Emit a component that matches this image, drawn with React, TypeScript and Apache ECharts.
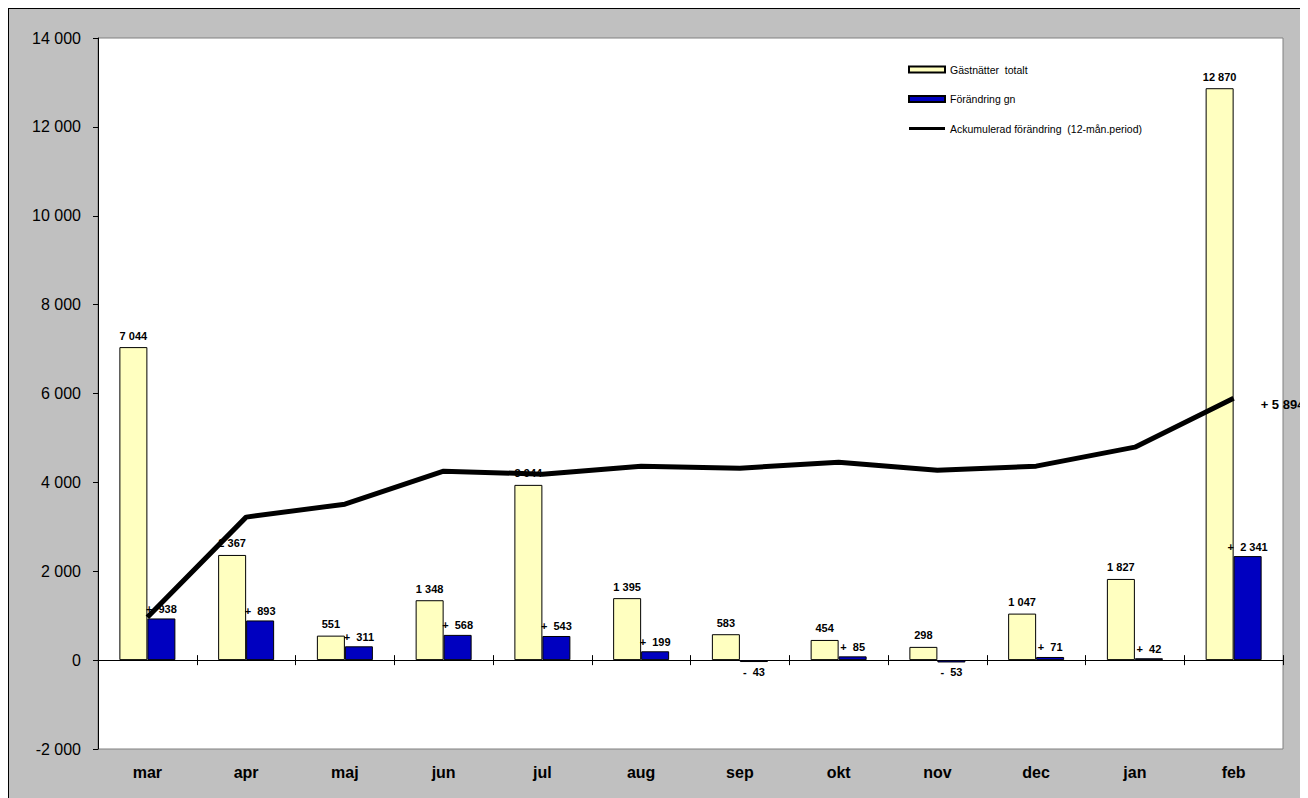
import React, { useEffect, useRef } from "react";
import * as echarts from "echarts";

const months = ["mar", "apr", "maj", "jun", "jul", "aug", "sep", "okt", "nov", "dec", "jan", "feb"];
const totalNights = [7044, 2367, 551, 1348, 3944, 1395, 583, 454, 298, 1047, 1827, 12870];
const changeNights = [938, 893, 311, 568, 543, 199, -43, 85, -53, 71, 42, 2341];
const cumulativeChange = [967, 3218, 3510, 4253, 4185, 4365, 4320, 4455, 4275, 4365, 4793, 5894];
const yTicks = { min: -2000, max: 14000, interval: 2000 };

const seriesNames = ["Gästnätter  totalt", "Förändring gn", "Ackumulerad förändring  (12-mån.period)"];

const FONT = "'Liberation Sans', Arial, Helvetica, sans-serif";

function fmt(n: number): string {
  return Math.abs(n).toString().replace(/\B(?=(\d{3})+(?!\d))/g, " ");
}
function signed(n: number): string {
  return (n < 0 ? "-  " : "+  ") + fmt(n);
}

export default function App() {
  const ref = useRef<HTMLDivElement>(null);
  useEffect(() => {
    if (!ref.current) return;
    const chart = echarts.init(ref.current, null, { renderer: "svg" });
    const labelBase = { fontFamily: FONT, fontWeight: "bold" as const, fontSize: 11, color: "#000" };
    chart.setOption({
      animation: false,
      backgroundColor: "#C0C0C0",
      textStyle: { fontFamily: FONT },
      grid: {
        left: 89,
        top: 29,
        width: 1185,
        height: 711,
        show: true,
        backgroundColor: "#FFFFFF",
        borderColor: "#808080",
        borderWidth: 1,
      },
      legend: {
        orient: "vertical",
        left: 894,
        top: 50,
        itemWidth: 36,
        itemHeight: 6,
        itemGap: 18.5,
        itemTextGap: 5,
        textStyle: { fontFamily: FONT, fontSize: 10.5, color: "#000" },
        data: [
          { name: seriesNames[0], icon: "rect" },
          { name: seriesNames[1], icon: "rect" },
          { name: seriesNames[2], icon: "path://M0,0 L36,0 L36,3 L0,3 Z" },
        ],
      },
      xAxis: [
        {
          type: "category",
          data: months,
          position: "bottom",
          axisLine: { show: false, onZero: false },
          axisTick: { show: false },
          axisLabel: { fontFamily: FONT, fontWeight: "bold", fontSize: 16, color: "#000", margin: 15 },
        },
        {
          type: "category",
          data: months,
          position: "bottom",
          axisLine: { show: true, onZero: true, onZeroAxisIndex: 0, lineStyle: { color: "#000", width: 1 } },
          axisTick: { show: true, length: 5, lineStyle: { color: "#000" } },
          axisLabel: { show: false },
        },
        {
          type: "category",
          data: months,
          position: "bottom",
          axisLine: { show: false, onZero: true, onZeroAxisIndex: 0 },
          axisTick: { show: true, inside: true, length: 5, lineStyle: { color: "#000" } },
          axisLabel: { show: false },
        },
      ],
      yAxis: {
        type: "value",
        min: yTicks.min,
        max: yTicks.max,
        interval: yTicks.interval,
        splitLine: { show: false },
        axisLine: { show: true, lineStyle: { color: "#000", width: 1 } },
        axisTick: { show: true, length: 5, lineStyle: { color: "#000" } },
        axisLabel: {
          fontFamily: FONT,
          fontSize: 16,
          color: "#000",
          margin: 17,
          formatter: (v: number) => (v < 0 ? "-" : "") + fmt(v),
        },
      },
      series: [
        {
          name: seriesNames[0],
          type: "bar",
          data: totalNights,
          barWidth: 28,
          barGap: "0%",
          itemStyle: { color: "#FFFFC0", borderColor: "#000", borderWidth: 1 },
          label: { show: true, position: "top", distance: 6, ...labelBase, formatter: (p: any) => fmt(p.value) },
          z: 2,
        },
        {
          name: seriesNames[1],
          type: "bar",
          data: changeNights.map((v) => ({
            value: v,
            label: { position: v < 0 ? "bottom" : "top" },
          })),
          barWidth: 28,
          barGap: "0%",
          itemStyle: { color: "#0000C0", borderColor: "#000", borderWidth: 1 },
          label: { show: true, distance: 4, ...labelBase, formatter: (p: any) => signed(p.value) },
          z: 2,
        },
        {
          name: seriesNames[2],
          type: "line",
          data: cumulativeChange.map((v, i) =>
            i === cumulativeChange.length - 1
              ? {
                  value: v,
                  label: {
                    show: true,
                    position: "right",
                    distance: 27,
                    offset: [0, 6],
                    ...labelBase,
                    fontSize: 13,
                    formatter: (p: any) => "+ " + fmt(p.value),
                  },
                }
              : v
          ),
          symbol: "circle",
          symbolSize: 0,
          showSymbol: true,
          clip: false,
          lineStyle: { color: "#000", width: 5 },
          itemStyle: { color: "#000" },
          z: 5,
        },
      ],
    });
    return () => chart.dispose();
  }, []);
  return (
    <div
      style={{
        width: 1300,
        height: 790,
        boxSizing: "border-box",
        borderTop: "1px solid #000",
        borderLeft: "1px solid #000",
        overflow: "hidden",
      }}
    >
      <div ref={ref} style={{ width: 1299, height: 789 }} />
    </div>
  );
}
